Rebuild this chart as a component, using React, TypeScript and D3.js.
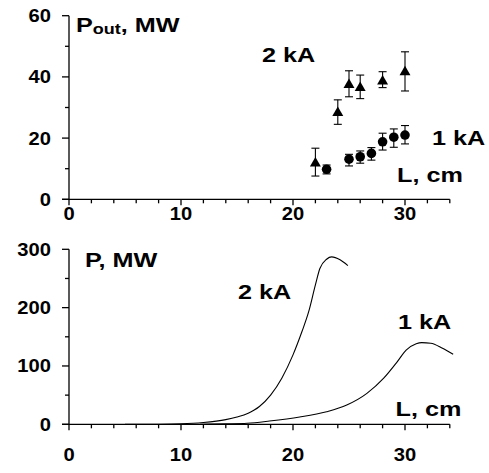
import React from "react";
import * as d3 from "d3";

// ---- Top panel: measured output power (points with error bars)
const L2kA = [22, 24, 25, 26, 28, 30];
const P2kA = [11.9, 28.4, 37.6, 36.6, 38.7, 41.7];
const P2kALow = [7.6, 24.5, 33.5, 32.9, 36.5, 35.4];
const P2kAHigh = [16.7, 32.5, 42.0, 40.6, 41.7, 48.2];

const L1kA = [23, 25, 26, 27, 28, 29, 30];
const P1kA = [9.8, 13.1, 13.9, 15.0, 18.8, 20.3, 21.0];
const P1kALow = [8.3, 10.9, 11.8, 12.8, 16.1, 17.0, 18.1];
const P1kAHigh = [11.2, 14.7, 15.8, 16.9, 21.6, 23.0, 24.1];

// ---- Bottom panel: simulated power curves
const curve2L = [5, 8, 10, 12, 14, 15, 16, 16.5, 17, 18, 19, 20.0, 20.8, 21.4, 22.0, 22.4, 23.0, 23.45, 24.2, 24.9];
const curve2P = [0, 0.2, 0.8, 3, 8, 12.5, 19, 24, 30.5, 50, 79, 119, 159, 193, 239, 267, 283, 287, 282, 272];
const curve1L = [11.7, 14, 15.9, 17.9, 20.6, 23.0, 24.8, 26.6, 28.1, 29.3, 30.1, 31.0, 31.5, 32.3, 33.3, 34.3];
const curve1P = [0, 0.8, 1.8, 5.6, 12.5, 21.6, 33, 53, 79, 107, 127, 138, 140, 139, 131, 120];

const xMajor = [0, 10, 20, 30];
const xMinor = d3.range(0, 35, 2);
const yTopMajor = [0, 20, 40, 60];
const yTopMinor = [10, 30, 50];
const yBotMajor = [0, 100, 200, 300];
const yBotMinor = [50, 150, 250];

const FONT = "Liberation Sans, Arial, sans-serif";

function SText({ x, y, sx = 1.2, size = 21, anchor = "start", children }: any) {
  return (
    <g transform={`translate(${x},${y}) scale(${sx},1)`}>
      <text x={0} y={0} fontFamily={FONT} fontWeight="bold" fontSize={size} textAnchor={anchor} fill="#000">
        {children}
      </text>
    </g>
  );
}

function Axes({ x, y, yMajor, yMinor, labelBaseline }: any) {
  const [x0] = x.range();
  const y0 = y(0);
  const yTopPix = y(y.domain()[1]);
  return (
    <g stroke="#000" strokeWidth={1.3} fill="none">
      <line x1={x0 - 7} x2={x(34)} y1={y0} y2={y0} />
      <line x1={x0} x2={x0} y1={y0} y2={yTopPix} />
      {xMinor.map((v: number) => (
        <line key={"xm" + v} x1={x(v)} x2={x(v)} y1={y0} y2={y0 + (xMajor.includes(v) ? 6 : 4)} />
      ))}
      {yMajor.map((v: number) => (
        <line key={"ym" + v} x1={x0 - 7} x2={x0} y1={y(v)} y2={y(v)} />
      ))}
      {yMinor.map((v: number) => (
        <line key={"yn" + v} x1={x0 - 4} x2={x0} y1={y(v)} y2={y(v)} />
      ))}
      <g stroke="none">
        {xMajor.map((v: number) => (
          <SText key={"xl" + v} x={x(v)} y={labelBaseline} size={18} sx={1.12} anchor="middle">
            {String(v)}
          </SText>
        ))}
        {yMajor.map((v: number) => (
          <SText key={"yl" + v} x={51} y={y(v) + 6.4} size={18} sx={1.12} anchor="end">
            {String(v)}
          </SText>
        ))}
      </g>
    </g>
  );
}

export default function App() {
  const xTop = d3.scaleLinear().domain([0, 34]).range([69, 449.8]);
  const yTop = d3.scaleLinear().domain([0, 60]).range([199.3, 15.7]);
  const xBot = d3.scaleLinear().domain([0, 34]).range([69, 449.8]);
  const yBot = d3.scaleLinear().domain([0, 300]).range([424.3, 249.3]);

  const line = d3
    .line<[number, number]>()
    .x((d) => xBot(d[0]))
    .y((d) => yBot(d[1]))
    .curve(d3.curveMonotoneX);

  const c2 = line(curve2L.map((l, i) => [l, curve2P[i]] as [number, number])) || "";
  const c1 = line(curve1L.map((l, i) => [l, curve1P[i]] as [number, number])) || "";

  const tri = d3.symbol().type(d3.symbolTriangle).size(52)() || "";

  return (
    <svg width={489} height={473} style={{ position: "absolute", left: 0, top: 0, background: "#fff" }}>
      <rect x={0} y={0} width={489} height={473} fill="#fff" />

      {/* Top panel */}
      <Axes x={xTop} y={yTop} yMajor={yTopMajor} yMinor={yTopMinor} labelBaseline={220} />

      <g stroke="#000" strokeWidth={1.1}>
        {L2kA.map((l, i) => (
          <g key={"e2" + i}>
            <line x1={xTop(l)} x2={xTop(l)} y1={yTop(P2kALow[i])} y2={yTop(P2kAHigh[i])} />
            <line x1={xTop(l) - 4} x2={xTop(l) + 4} y1={yTop(P2kALow[i])} y2={yTop(P2kALow[i])} />
            <line x1={xTop(l) - 4} x2={xTop(l) + 4} y1={yTop(P2kAHigh[i])} y2={yTop(P2kAHigh[i])} />
          </g>
        ))}
        {L1kA.map((l, i) => (
          <g key={"e1" + i}>
            <line x1={xTop(l)} x2={xTop(l)} y1={yTop(P1kALow[i])} y2={yTop(P1kAHigh[i])} />
            <line x1={xTop(l) - 4} x2={xTop(l) + 4} y1={yTop(P1kALow[i])} y2={yTop(P1kALow[i])} />
            <line x1={xTop(l) - 4} x2={xTop(l) + 4} y1={yTop(P1kAHigh[i])} y2={yTop(P1kAHigh[i])} />
          </g>
        ))}
      </g>
      <g fill="#000">
        {L2kA.map((l, i) => (
          <path key={"t" + i} d={tri} transform={`translate(${xTop(l)},${yTop(P2kA[i]) + 0.5})`} />
        ))}
        {L1kA.map((l, i) => (
          <circle key={"c" + i} cx={xTop(l)} cy={yTop(P1kA[i])} r={4.8} />
        ))}
      </g>

      <g transform="translate(76,31.7) scale(1.2,1)">
        <text x={0} y={0} fontFamily={FONT} fontWeight="bold" fontSize={21} fill="#000">
          P
          <tspan fontSize={15} dy={2}>out</tspan>
          <tspan dy={-2}>, MW</tspan>
        </text>
      </g>
      <SText x={262} y={61.7}>2 kA</SText>
      <SText x={432} y={145}>1 kA</SText>
      <SText x={397} y={181.7}>L, cm</SText>

      {/* Bottom panel */}
      <path d={c2} fill="none" stroke="#000" strokeWidth={1.1} />
      <path d={c1} fill="none" stroke="#000" strokeWidth={1.1} />
      <Axes x={xBot} y={yBot} yMajor={yBotMajor} yMinor={yBotMinor} labelBaseline={460.5} />

      <SText x={85} y={266.7}>P, MW</SText>
      <SText x={238} y={299.3}>2 kA</SText>
      <SText x={398} y={329.3}>1 kA</SText>
      <SText x={395.5} y={416}>L, cm</SText>
    </svg>
  );
}
